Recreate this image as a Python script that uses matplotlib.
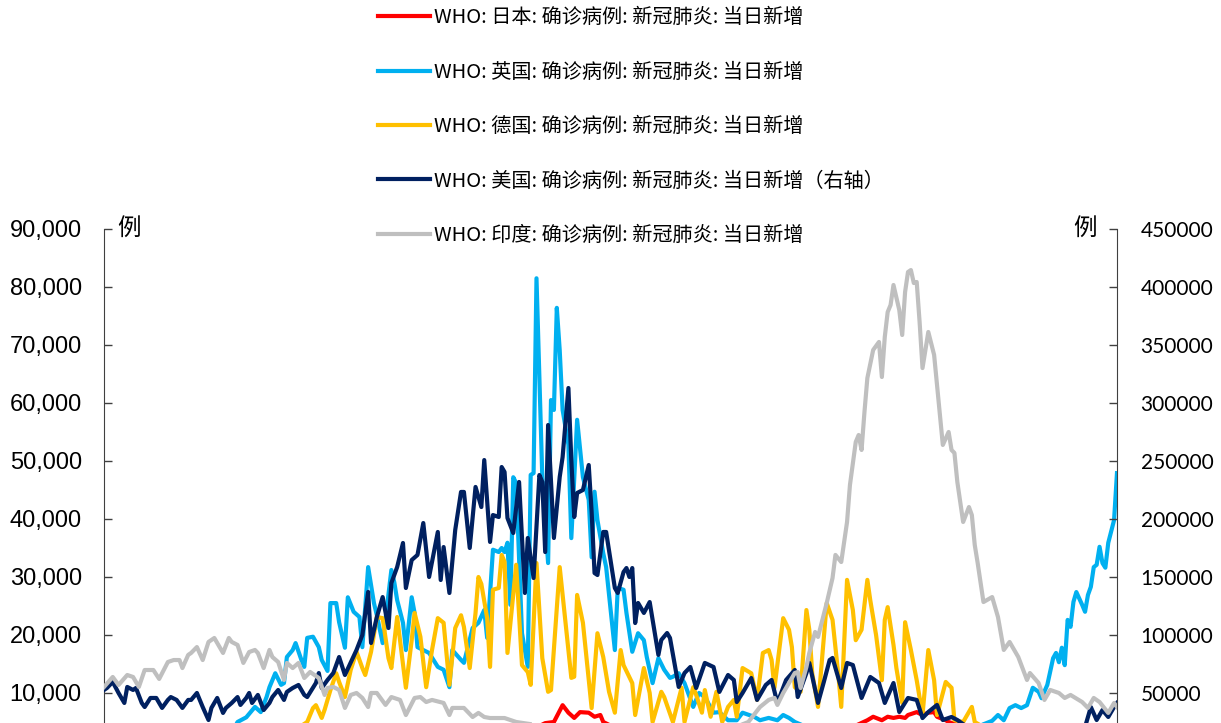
import numpy as np
import matplotlib
matplotlib.use("Agg")
import matplotlib.pyplot as plt
from matplotlib.ticker import StrMethodFormatter

plt.rcParams['font.family'] = ['Noto Sans CJK SC', 'DejaVu Sans']

# day offsets (from 2020-08-01) and daily new cases in thousands
jp_day = [0, 5, 10, 20, 30, 40, 50, 60, 70, 80, 90, 100, 110, 120, 130, 140, 148, 152,
          155, 158, 160, 162, 164, 167, 169, 171, 172,
          176, 182, 190, 200, 210, 220, 230, 240, 250, 255, 260,
          263, 265, 268, 270, 272, 274, 276, 277, 280, 282, 284, 286, 287, 290, 291,
          300, 310, 320, 330, 340, 349]
jp_val = [1.0, 1.4, 1.2, 1.0, 0.7, 0.6, 0.5, 0.6, 0.6, 0.7, 0.9, 1.3, 2.0, 2.2, 2.6, 3.0, 3.8, 4.8,
          5.0, 7.9, 6.6, 5.7, 6.7, 6.6, 5.9, 6.2, 5.0,
          4.0, 3.0, 2.0, 1.5, 1.2, 1.1, 1.3, 2.0, 3.0, 4.0, 4.6,
          5.3, 5.9, 5.3, 5.9, 5.7, 5.9, 5.7, 6.2, 6.7, 6.2, 6.6, 6.7, 5.9, 5.3, 5.0,
          3.5, 2.5, 2.0, 1.6, 1.5, 2.0]

uk_day = [0, 10, 20, 30, 40, 45, 46, 49, 52, 54, 56, 57, 59, 61, 62, 63, 65, 66, 68, 69, 70,
          72, 74, 75, 77, 78, 80, 81, 83, 84, 86, 88, 89, 91, 93, 94, 96, 99, 100, 101, 103,
          104, 106, 107, 108, 110, 112, 115, 117, 119, 120, 123, 124, 127, 129, 131, 132, 134,
          136, 137, 138, 139, 140, 141, 142, 144, 146, 147, 148, 149, 151, 153, 154, 155, 156,
          157, 158, 160, 161, 163, 165, 167, 168, 169, 170, 172, 173, 176, 177, 179, 180, 182,
          184, 186, 187, 189, 191, 193, 195, 196, 198, 200, 203, 205, 207, 210, 212, 215, 218,
          220, 224, 226, 229, 232, 234, 236, 238, 245, 255, 265, 275, 285, 295, 300,
          306, 308, 310, 312, 314, 316, 318, 320, 322, 323, 325, 327, 328, 329, 330, 331, 332,
          333, 334, 335, 337, 338, 339, 340, 341, 342, 343, 344, 345, 346, 348, 349]
uk_val = [1.0, 1.0, 1.2, 2.5, 3.5, 4.0, 5.0, 5.8, 7.6, 6.7, 9.3, 11.0, 13.4, 11.4, 11.7, 16.2,
          17.4, 18.6, 15.7, 14.5, 19.5, 19.7, 17.9, 15.7, 13.8, 25.5, 25.5, 22.2, 17.8, 26.5,
          24.0, 23.1, 17.9, 31.7, 25.5, 23.4, 18.6, 31.2, 29.1, 26.0, 22.1, 17.4, 26.5, 23.8,
          17.9, 17.4, 16.9, 14.5, 14.0, 11.0, 17.4, 15.7, 15.2, 21.2, 22.1, 24.3, 19.5, 34.7,
          34.3, 35.0, 34.3, 35.9, 25.2, 47.2, 46.2, 20.3, 14.5, 47.6, 47.9, 81.5, 47.2, 32.4,
          60.5, 58.8, 76.4, 69.1, 58.8, 52.8, 36.7, 57.1, 47.2, 43.3, 33.4, 44.7, 39.8, 34.1,
          31.7, 17.4, 28.1, 27.8, 23.8, 17.1, 20.3, 19.1, 16.2, 11.7, 16.0, 14.0, 12.6, 12.8,
          13.4, 11.7, 7.6, 10.0, 9.3, 6.6, 6.7, 5.3, 5.3, 6.6, 5.9, 5.3, 5.7, 5.3, 6.2, 5.7,
          5.0, 3.5, 2.8, 2.5, 2.3, 2.4, 3.0, 4.0,
          5.2, 6.2, 5.3, 7.4, 7.9, 7.4, 7.9, 10.9, 10.2, 9.1, 11.4, 16.0, 16.9, 15.3, 17.8,
          14.8, 22.6, 21.4, 25.7, 27.4, 25.2, 24.0, 26.9, 28.3, 31.7, 32.1, 35.2, 32.4, 31.6,
          35.9, 39.8, 47.9]

de_day = [0, 10, 20, 30, 40, 50, 60, 67, 70, 72, 73, 75, 76, 78, 80, 81, 83, 85, 87, 89, 90,
          92, 94, 96, 98, 99, 101, 104, 106, 107, 109, 111, 113, 115, 117, 119, 121, 123, 124,
          126, 128, 129, 130, 132, 133, 134, 136, 137, 138, 139, 142, 144, 146, 147, 149, 151,
          153, 154, 157, 161, 162, 163, 165, 168, 170, 172, 174, 176, 178, 179, 182, 183, 186,
          188, 189, 192, 193, 196, 199, 200, 203, 204, 206, 207, 209, 211, 213, 215, 217, 218,
          220, 223, 225, 227, 229, 230, 231, 234, 236, 237, 238, 240, 242, 243, 244, 246, 249,
          251, 253, 254, 256, 258, 259, 261, 263, 264, 266, 268, 269, 270, 272, 273, 275, 276,
          278, 280, 282, 284, 286, 287, 290, 292, 293, 296, 299, 300, 305, 315, 325, 335, 349]
de_val = [1.0, 1.2, 1.3, 1.5, 2.0, 2.3, 3.0, 4.0, 5.0, 7.4, 7.9, 5.7, 7.1, 10.5, 13.4, 11.9,
          9.3, 14.0, 17.1, 14.3, 13.1, 17.1, 23.1, 22.9, 16.0, 14.3, 23.1, 10.9, 19.1, 23.8,
          19.7, 11.0, 17.4, 22.9, 22.1, 11.4, 21.2, 23.4, 21.4, 14.3, 23.8, 30.0, 28.8, 22.9,
          14.5, 27.8, 28.1, 33.8, 32.6, 16.9, 32.1, 14.8, 13.6, 11.4, 32.4, 16.0, 10.2, 10.5,
          31.7, 12.6, 12.8, 26.9, 22.1, 7.4, 20.3, 16.2, 10.2, 6.6, 17.4, 14.8, 11.7, 6.2,
          14.3, 10.0, 5.0, 10.2, 9.3, 5.0, 10.9, 5.0, 11.0, 9.7, 6.6, 10.5, 5.9, 10.2, 5.0,
          7.6, 8.8, 5.9, 14.3, 13.4, 8.8, 16.9, 17.4, 15.7, 10.9, 22.9, 20.9, 17.9, 11.0, 10.2,
          24.3, 20.9, 13.4, 7.6, 25.5, 22.6, 13.1, 7.6, 29.5, 24.3, 19.1, 20.9, 29.5, 26.0,
          20.0, 12.2, 22.6, 24.8, 18.3, 14.3, 8.3, 22.2, 17.4, 12.2, 6.2, 17.4, 12.2, 6.2,
          11.9, 10.9, 5.3, 5.0, 7.6, 5.0, 3.5, 2.5, 1.5, 1.0, 0.8]

us_day = [0, 1, 3, 5, 7, 8, 10, 11, 13, 14, 16, 18, 20, 22, 23, 25, 27, 29, 30, 32, 34, 36,
          37, 39, 41, 42, 44, 46, 47, 49, 50, 51, 53, 55, 57, 58, 60, 62, 63, 65, 67, 69, 70,
          73, 74, 75, 77, 79, 81, 83, 87, 89, 91, 92, 94, 96, 98, 99, 101, 103, 104, 106, 108,
          110, 112, 115, 116, 117, 119, 121, 123, 124, 126, 128, 130, 131, 133, 134, 136, 137,
          138, 139, 141, 143, 145, 146, 148, 150, 151, 152, 153, 155, 157, 158, 160, 161, 162,
          163, 165, 167, 168, 169, 170, 172, 173, 176, 177, 179, 180, 181, 182, 183, 184, 186,
          188, 191, 192, 194, 195, 198, 200, 202, 204, 207, 210, 212, 215, 217, 218, 220, 223,
          225, 228, 230, 232, 235, 238, 239, 242, 243, 246, 248, 250, 251, 254, 256, 258, 261,
          264, 267, 269, 272, 274, 277, 280, 282, 284, 287, 289, 292, 294, 300, 308, 316, 324,
          332, 337, 340, 342, 344, 346, 348, 349]
us_val = [52.6, 54.3, 59.5, 50.0, 41.4, 55.2, 52.6, 54.3, 41.4, 37.9, 45.7, 45.7, 37.1, 44.0,
          46.5, 44.0, 37.1, 44.0, 44.0, 50.0, 37.9, 26.7, 37.1, 45.7, 32.8, 37.1, 41.4, 46.5,
          39.7, 45.7, 50.0, 41.4, 48.3, 35.3, 41.4, 46.5, 52.6, 44.0, 50.9, 54.3, 56.9, 48.3,
          46.5, 58.6, 67.2, 54.3, 61.2, 67.2, 81.0, 65.5, 87.1, 100.0, 137.1, 93.1, 115.5,
          132.7, 106.0, 144.8, 158.6, 179.3, 140.5, 164.6, 169.0, 196.5, 150.0, 188.8, 147.4,
          175.8, 136.2, 190.5, 223.3, 223.3, 175.0, 227.6, 210.3, 250.8, 180.2, 203.4, 201.7,
          244.8, 240.5, 200.8, 187.9, 231.9, 136.2, 183.6, 149.1, 237.9, 231.9, 171.5, 281.0,
          183.6, 236.2, 253.4, 312.9, 250.8, 201.7, 222.4, 225.0, 246.5, 206.0, 153.4, 151.7,
          188.8, 188.8, 140.5, 136.2, 154.3, 157.7, 150.0, 157.7, 110.3, 127.6, 119.0, 128.4,
          82.8, 95.7, 101.7, 97.4, 55.2, 67.2, 72.4, 54.3, 75.9, 72.4, 50.9, 65.5, 61.2, 42.2,
          50.0, 62.9, 44.0, 56.9, 61.2, 41.4, 61.2, 69.8, 46.5, 67.2, 75.9, 41.4, 59.5, 78.4,
          80.2, 54.3, 75.9, 74.1, 45.7, 63.8, 58.6, 41.4, 58.6, 33.6, 45.7, 44.0, 28.4, 33.6,
          39.7, 26.7, 29.3, 26.7, 16.0, 14.0, 12.0, 10.0, 8.0, 12.0, 37.9, 26.7, 35.3, 29.3,
          37.9, 41.4]

in_day = [0, 3, 5, 8, 10, 12, 14, 17, 19, 22, 24, 26, 27, 29, 30, 32, 34, 36, 38, 39, 41, 43,
          44, 46, 48, 50, 52, 53, 55, 57, 58, 60, 62, 63, 65, 67, 69, 71, 74, 76, 77, 79, 81,
          83, 85, 87, 89, 91, 92, 94, 97, 99, 102, 104, 107, 109, 111, 113, 117, 119, 120, 124,
          127, 129, 131, 133, 138, 142, 150, 160, 170, 180, 190, 200, 210, 217, 222, 226, 229,
          231, 232, 234, 238, 239, 240, 242, 243, 245, 246, 249, 251, 252, 254, 256, 257, 259,
          260, 261, 262, 263, 265, 267, 268, 269, 270, 271, 272, 274, 275, 276, 277, 278, 279,
          280, 281, 282, 284, 286, 287, 288, 289, 291, 292, 293, 294, 296, 298, 299, 300, 301,
          303, 306, 308, 310, 312, 315, 318, 319, 322, 324, 326, 329, 331, 333, 337, 339, 341,
          343, 346, 348, 349]
in_val = [55.2, 63.8, 56.9, 65.5, 63.8, 55.2, 69.8, 69.8, 62.1, 76.7, 78.4, 78.4, 71.5, 82.8,
          84.5, 89.6, 78.4, 94.0, 97.4, 93.1, 84.5, 97.4, 94.0, 91.4, 75.9, 85.3, 87.1, 84.5,
          71.5, 87.1, 81.0, 76.7, 61.2, 75.9, 71.5, 75.9, 62.9, 68.1, 62.9, 48.3, 54.3, 55.2,
          52.6, 37.1, 48.3, 50.0, 45.7, 37.9, 50.0, 50.0, 39.7, 46.5, 44.0, 31.0, 45.7, 46.5,
          42.2, 44.0, 41.4, 31.0, 37.1, 37.1, 29.3, 32.8, 29.3, 28.4, 28.4, 25.0, 22.0, 19.0,
          16.0, 13.0, 11.0, 12.0, 15.0, 20.0, 25.0, 37.9, 44.0, 45.7, 39.7, 50.0, 67.2, 68.1,
          54.3, 72.4, 84.5, 102.6, 98.3, 127.6, 149.1, 169.0, 162.9, 197.4, 229.3, 266.4,
          272.4, 259.5, 292.2, 321.5, 345.7, 352.6, 322.4, 356.9, 378.4, 384.5, 401.7, 380.1,
          358.6, 395.7, 412.9, 414.6, 403.4, 404.3, 369.8, 330.1, 361.2, 341.4, 315.5, 289.6,
          263.8, 275.0, 259.5, 256.9, 231.9, 197.4, 210.3, 203.4, 177.6, 162.1, 128.4, 132.7,
          115.5, 87.1, 94.0, 81.0, 61.2, 67.2, 58.6, 44.0, 52.6, 50.0, 45.7, 48.3, 42.2, 37.1,
          45.7, 42.2, 32.8, 41.4, 37.9]

labels = ['WHO: 日本: 确诊病例: 新冠肺炎: 当日新增',
          'WHO: 英国: 确诊病例: 新冠肺炎: 当日新增',
          'WHO: 德国: 确诊病例: 新冠肺炎: 当日新增',
          'WHO: 美国: 确诊病例: 新冠肺炎: 当日新增（右轴）',
          'WHO: 印度: 确诊病例: 新冠肺炎: 当日新增']

fig = plt.figure(figsize=(12.21, 7.23), dpi=100)
ax = fig.add_axes([0.0852, -0.0387, 0.8296, 0.722])
ax2 = ax.twinx()

lw = 3
l1, = ax.plot(jp_day, np.array(jp_val) * 1000, color='#FF0000', lw=lw, label=labels[0])
l2, = ax.plot(uk_day, np.array(uk_val) * 1000, color='#00B0F0', lw=lw, label=labels[1])
l3, = ax.plot(de_day, np.array(de_val) * 1000, color='#FFC000', lw=lw, label=labels[2])
l4, = ax2.plot(us_day, np.array(us_val) * 1000, color='#002060', lw=lw, label=labels[3])
l5, = ax2.plot(in_day, np.array(in_val) * 1000, color='#BFBFBF', lw=lw, label=labels[4])

ax.set_xlim(0, 349)
ax.set_ylim(0, 90000)
ax2.set_ylim(0, 450000)
# the 0 tick sits below the visible part of the figure
ax.set_yticks(np.arange(10000, 90001, 10000))
ax2.set_yticks(np.arange(50000, 450001, 50000))
ax.yaxis.set_major_formatter(StrMethodFormatter('{x:,.0f}'))
ax.set_xticks([])

for a in (ax, ax2):
    for s in ('top', 'bottom'):
        a.spines[s].set_visible(False)
ax.spines['left'].set_color('#404040')
ax2.spines['right'].set_color('#404040')
ax2.spines['left'].set_visible(False)
ax.spines['right'].set_visible(False)

ax.tick_params(axis='y', direction='in', length=6, width=1, color='#404040', pad=16)
ax2.tick_params(axis='y', direction='in', length=6, width=1, color='#404040', pad=17)
for t in ax.get_yticklabels():
    t.set_fontfamily('Liberation Sans')
    t.set_fontsize(17)
for t in ax2.get_yticklabels():
    t.set_fontfamily('Lato')
    t.set_fontsize(15)

fig.text(117 / 1221, 1 - 229 / 723, '例', fontsize=17, va='center', ha='left')
fig.text(1097 / 1221, 1 - 229 / 723, '例', fontsize=17, va='center', ha='right')

fig.legend(handles=[l1, l2, l3, l4, l5], loc='upper left',
           bbox_to_anchor=(378 / 1221, 0.99), frameon=False, fontsize=14.5,
           handlelength=2.6, handletextpad=0.2, labelspacing=1.66,
           borderpad=0, borderaxespad=0)

fig.savefig('out.png', dpi=100)
